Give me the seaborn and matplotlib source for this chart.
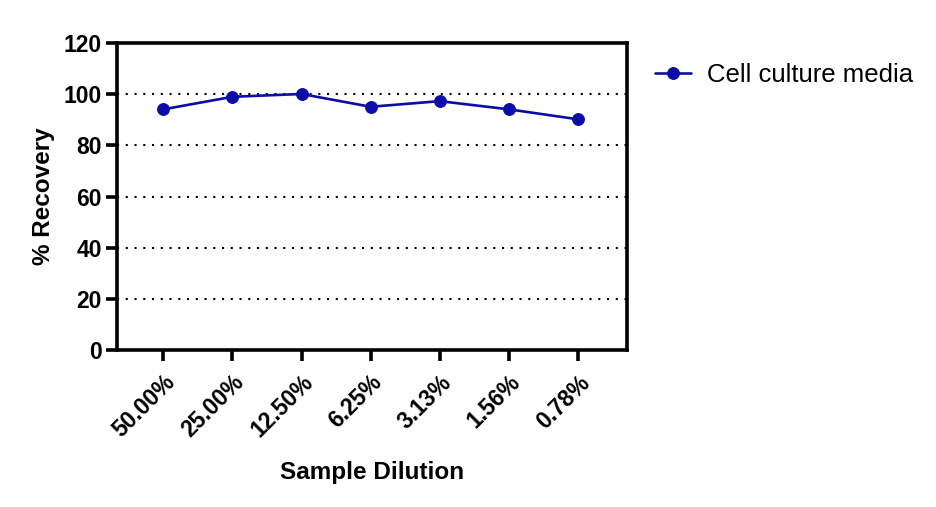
import numpy as np
import matplotlib
matplotlib.use("Agg")
import matplotlib.pyplot as plt
import seaborn as sns
import pandas as pd

sns.set_style("ticks")
plt.rcParams['font.family'] = ['Liberation Sans', 'DejaVu Sans']
plt.rcParams['text.color'] = 'black'
plt.rcParams['axes.labelcolor'] = 'black'
plt.rcParams['xtick.color'] = 'black'
plt.rcParams['ytick.color'] = 'black'

# Data
dilutions = ['50.00%', '25.00%', '12.50%', '6.25%', '3.13%', '1.56%', '0.78%']
recovery = [94.1, 99.0, 100.1, 95.1, 97.3, 94.1, 90.2]
series_name = 'Cell culture media'
yticks = [0, 20, 40, 60, 80, 100, 120]

df = pd.DataFrame({'Dilution': dilutions, 'Recovery': recovery})
df['pos'] = np.arange(len(dilutions))

fig = plt.figure(figsize=(9.37, 5.07), dpi=100)
ax = fig.add_axes([0.1249, 0.3097, 0.5443, 0.6053])

blue = '#0c0ca8'
sns.lineplot(data=df, x='pos', y='Recovery', ax=ax, color=blue, lw=1.9,
             marker='o', markersize=8.5, markeredgecolor=blue,
             label=series_name)

# dotted grid lines
for v in yticks[1:-1]:
    ax.axhline(v, color='black', ls=(0, (1, 3.2)), lw=1.5, zorder=0)

ax.set_xlim(-0.67, 6.71)
ax.set_ylim(0, 120)
ax.set_yticks(yticks)
ax.set_xticks(df['pos'])
ax.set_xticklabels(dilutions, rotation=45, ha='right', rotation_mode='anchor',
                   fontsize=16.5, fontweight='bold')
for lab in ax.get_yticklabels():
    lab.set_fontsize(16.5)
    lab.set_fontweight('bold')

for s in ax.spines.values():
    s.set_linewidth(2.6)
    s.set_color('black')
ax.tick_params(axis='both', direction='out', width=2.6, length=8, pad=3, color='black')
ax.tick_params(axis='x', pad=7)

ax.set_xlabel('Sample Dilution', fontsize=17.5, fontweight='bold', labelpad=14)
ax.set_ylabel('% Recovery', fontsize=17.5, fontweight='bold', labelpad=6)

ax.legend(loc='upper left', bbox_to_anchor=(1.01, 1.01), frameon=False,
          fontsize=18.5, handlelength=1.4, handletextpad=0.6)

fig.savefig('out.png', dpi=100)
